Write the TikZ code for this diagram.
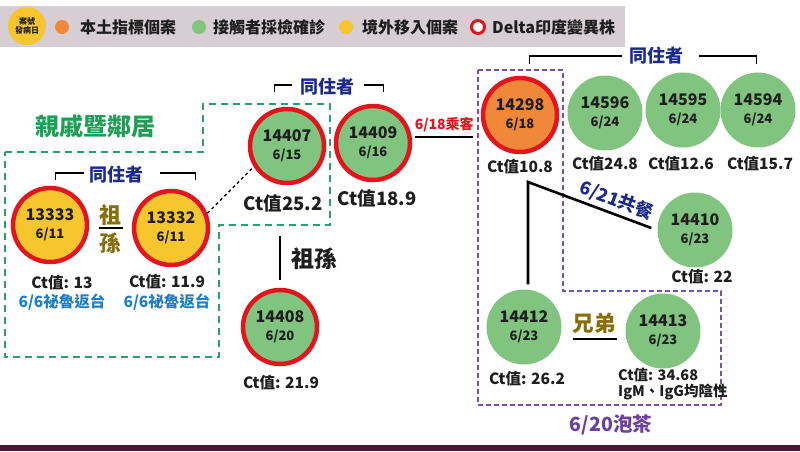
\documentclass[tikz,border=0pt]{standalone}
\usepackage{fontspec}
\setmainfont{Noto Sans CJK TC}
\usetikzlibrary{calc}
\definecolor{dred}{HTML}{E3141B}
\definecolor{cyellow}{HTML}{F7C52D}
\definecolor{cgreen}{HTML}{80C47F}
\definecolor{corange}{HTML}{F0883A}
\definecolor{cnavy}{HTML}{1B2A8C}
\definecolor{cblue}{HTML}{1F7FC4}
\definecolor{cgtext}{HTML}{1E9E55}
\definecolor{cgdash}{HTML}{2E9E6E}
\definecolor{cpdash}{HTML}{7A4FB0}
\definecolor{cptext}{HTML}{6B3FA0}
\definecolor{colive}{HTML}{8A6D0B}
\definecolor{clegbg}{HTML}{D6CED2}
\definecolor{cbar}{HTML}{4A1632}
\definecolor{cdark}{HTML}{1E1E1E}
\tikzset{
  cbase/.style={circle, inner sep=0pt, align=center, text=cdark,
    font=\bfseries\fontsize{16}{18.5}\selectfont},
  dcase/.style={cbase, minimum size=74pt, draw=dred, line width=4.5pt},
  gcase/.style={cbase, minimum size=75pt, fill=cgreen},
  ctl/.style={inner sep=0pt, text=cdark, font=\bfseries\fontsize{15.5}{17}\selectfont},
  ctbig/.style={inner sep=0pt, text=cdark, font=\bfseries\fontsize{18.5}{20}\selectfont},
  legt/.style={inner sep=0pt, anchor=west, text=cdark, font=\bfseries\fontsize{16}{18}\selectfont},
  legdot/.style={circle, inner sep=0pt, minimum size=14pt},
  housel/.style={inner sep=0pt, text=cnavy, font=\bfseries\fontsize{18}{20}\selectfont},
  brk/.style={line width=1.3pt, black},
  conn/.style={line width=2.6pt, black},
  gdash/.style={draw=cgdash, line width=2pt, dash pattern=on 7pt off 5pt},
  pdash/.style={draw=cpdash, line width=1.8pt, dash pattern=on 5pt off 3pt},
}
\newcommand{\dt}[1]{{\fontsize{13}{15}\selectfont #1}}
\begin{document}
\begin{tikzpicture}[x=1pt,y=-1pt]
\useasboundingbox (0,0) rectangle (800,451);
\fill[white] (0,0) rectangle (800,451);
% legend
\fill[clegbg] (0,6) rectangle (625,47);
\node[circle, fill=cyellow, minimum size=38pt, inner sep=0pt, align=center,
  text=cdark, font=\bfseries\fontsize{8}{9}\selectfont] (legcase) at (27,26) {案號\\發病日};
\node[legdot, fill=corange] (dotO) at (62,27) {};
\node[legt] (lt1) at (80,27) {本土指標個案};
\node[legdot, fill=cgreen] (dotG) at (199,27) {};
\node[legt] (lt2) at (213,27) {接觸者採檢確診};
\node[legdot, fill=cyellow] (dotY) at (346,27) {};
\node[legt] (lt3) at (362,27) {境外移入個案};
\node[circle, inner sep=0pt, draw=dred, line width=3pt, fill=white, minimum size=13pt] (ring) at (478,27) {};
\node[legt] (lt4) at (492,27) {Delta印度變異株};
% bottom bar
\fill[cbar] (0,445) rectangle (800,451);
% dashed groups
\draw[gdash] (5,152) -- (203,152) -- (203,104) -- (330,104) -- (330,225) -- (219,225) -- (219,357) -- (5,357) -- cycle;
\draw[pdash] (478,70) -- (563,70) -- (563,291) -- (721,291) -- (721,405) -- (478,405) -- cycle;
% titles
\node[inner sep=0pt, text=cgtext, font=\bfseries\fontsize{24}{26}\selectfont] (tqin) at (95,126) {親戚暨鄰居};
\node[inner sep=0pt, text=cptext, font=\bfseries\fontsize{19.5}{21}\selectfont] (tpao) at (611,425) {6/20泡茶};
% circles
\node[dcase, fill=cyellow] (c13333) at (50,225) {13333\\\dt{6/11}};
\node[dcase, fill=cyellow] (c13332) at (171,228) {13332\\\dt{6/11}};
\node[dcase, fill=cgreen] (c14407) at (287,146) {14407\\\dt{6/15}};
\node[dcase, fill=cgreen] (c14409) at (373,143) {14409\\\dt{6/16}};
\node[dcase, fill=cgreen] (c14408) at (280,327) {14408\\\dt{6/20}};
\node[dcase, fill=corange] (c14298) at (520,115) {14298\\\dt{6/18}};
\node[gcase] (c14596) at (605,113) {14596\\\dt{6/24}};
\node[gcase] (c14595) at (683,110) {14595\\\dt{6/24}};
\node[gcase] (c14594) at (758,110) {14594\\\dt{6/24}};
\node[gcase] (c14410) at (695,230) {14410\\\dt{6/23}};
\node[gcase] (c14412) at (524,327) {14412\\\dt{6/23}};
\node[gcase] (c14413) at (663,331) {14413\\\dt{6/23}};
% Ct labels
\node[ctl] (k13333) at (62,283) {Ct值: 13};
\node[ctl, text=cblue] (r13333) at (62,302) {6/6祕魯返台};
\node[ctl] (k13332) at (167,282) {Ct值: 11.9};
\node[ctl, text=cblue] (r13332) at (167,302) {6/6祕魯返台};
\node[ctbig] (k14407) at (283,203) {Ct值25.2};
\node[ctbig] (k14409) at (377,198) {Ct值18.9};
\node[ctl] (k14408) at (281,383) {Ct值: 21.9};
\node[ctl] (k14298) at (520,167) {Ct值10.8};
\node[ctl] (k14596) at (605,164) {Ct值24.8};
\node[ctl] (k14595) at (681,164) {Ct值12.6};
\node[ctl] (k14594) at (760,164) {Ct值15.7};
\node[ctl] (k14410) at (702,277) {Ct值: 22};
\node[ctl] (k14412) at (527,379) {Ct值: 26.2};
\node[inner sep=0pt, anchor=west, align=left, text=cdark,
  font=\bfseries\fontsize{14.5}{16}\selectfont] (k14413) at (618,384) {Ct值: 34.68\\IgM、IgG均陰性};
% household brackets
\node[housel] (h1) at (116,175) {同住者};
\draw[brk] ([xshift=-5pt,yshift=2pt]h1.west) -- ++(-28,0) -- ++(0,7);
\draw[brk] ([xshift=17pt,yshift=2pt]h1.east) -- ++(35,0) -- ++(0,7);
\node[housel] (h2) at (327,87) {同住者};
\draw[brk] ([xshift=-8pt,yshift=2pt]h2.west) -- ++(-17,0) -- ++(0,7);
\draw[brk] ([xshift=10pt,yshift=2pt]h2.east) -- ++(19,0) -- ++(0,7);
\node[housel] (h3) at (656,56) {同住者};
\draw[brk] ([xshift=-7pt]h3.west) -- ++(-92,0) -- ++(0,8);
\draw[brk] ([xshift=16pt]h3.east) -- ++(57,0) -- ++(0,8);
% relations
\node[inner sep=0pt, text=colive, font=\bfseries\fontsize{22}{24}\selectfont] (zu1) at (110,215) {祖};
\node[inner sep=0pt, text=colive, font=\bfseries\fontsize{22}{24}\selectfont] (sun1) at (110,243) {孫};
\draw[conn] ([shift={(10pt,-3pt)}]c13333.east) -- ++(24,0);
\draw[dashed, line width=1.3pt] (c13332.22) -- (c14407.212);
\draw[conn] (c14408.north) ++(0,-8) -- ++(0,-44);
\node[inner sep=0pt, text=cdark, font=\bfseries\fontsize{23}{25}\selectfont] (zs2) at (314,259) {祖孫};
\draw[conn] (c14409.east) ++(3,-6) -- node[above=4pt, inner sep=0pt, text=dred,
  font=\bfseries\fontsize{14}{16}\selectfont] (lb618) {6/18乘客} ++(58,0);
\coordinate (cor) at (528,182);
\draw[conn] ([shift={(4pt,5pt)}]c14412.north) -- (cor) -- node[pos=0.68, sloped, above=3pt, inner sep=0pt,
  text=cnavy, font=\bfseries\fontsize{18}{20}\selectfont] (lb621) {6/21共餐} ([shift={(-6pt,2pt)}]c14410.west);
\node[inner sep=0pt, text=colive, font=\bfseries\fontsize{21.5}{23}\selectfont] (xd) at (594,323) {兄弟};
\draw[conn] ([shift={(11pt,-12pt)}]c14412.east) -- ++(44,0);
\end{tikzpicture}
\end{document}
